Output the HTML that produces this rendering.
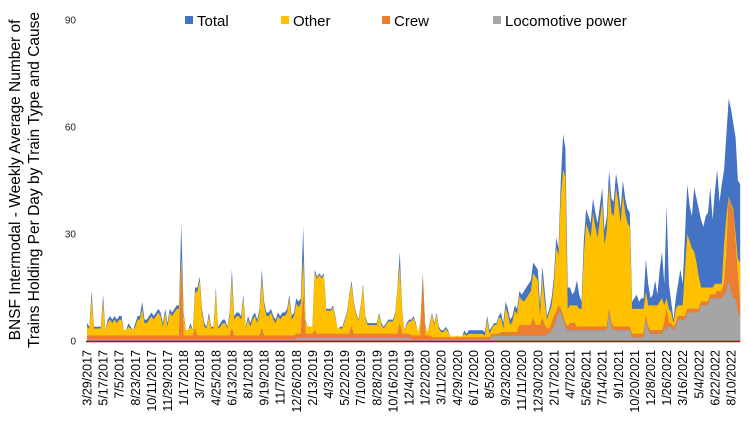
<!DOCTYPE html>
<html><head><meta charset="utf-8"><style>
html,body{margin:0;padding:0;background:#fff;}
svg{display:block;font-family:"Liberation Sans",Arial,sans-serif;}
</style></head><body>
<svg id="chart" width="749" height="424" viewBox="0 0 749 424" xmlns="http://www.w3.org/2000/svg">
<g id="yTitle">
<text x="20" y="180" font-size="15.5" text-anchor="middle" transform="rotate(-90 20 180)">BNSF Intermodal - Weekly Average Number of</text>
<text x="39" y="180" font-size="15.5" text-anchor="middle" transform="rotate(-90 39 180)">Trains Holding Per Day by Train Type and Cause</text>
</g>
<g id="legend">
<g><rect x="185" y="16" width="8" height="8" fill="#4472C4"/><text x="197" y="26" font-size="15">Total</text></g>
<g><rect x="281" y="16" width="8" height="8" fill="#FFC000"/><text x="293" y="26" font-size="15">Other</text></g>
<g><rect x="382" y="16" width="8" height="8" fill="#ED7D31"/><text x="394" y="26" font-size="15">Crew</text></g>
<g><rect x="493" y="16" width="8" height="8" fill="#A5A5A5"/><text x="505" y="26" font-size="15">Locomotive power</text></g>
</g>
<g id="areas"></g>
<g id="yAxis"></g>
<g id="xAxis"></g>
</svg>
<script>
const yTicks = [0, 30, 60, 90];
const xTickLabels = ["3/29/2017","5/17/2017","7/5/2017","8/23/2017","10/11/2017","11/29/2017","1/17/2018","3/7/2018","4/25/2018","6/13/2018","8/1/2018","9/19/2018","11/7/2018","12/26/2018","2/13/2019","4/3/2019","5/22/2019","7/10/2019","8/28/2019","10/16/2019","12/4/2019","1/22/2020","3/11/2020","4/29/2020","6/17/2020","8/5/2020","9/23/2020","11/11/2020","12/30/2020","2/17/2021","4/7/2021","5/26/2021","7/14/2021","9/1/2021","10/20/2021","12/8/2021","1/26/2022","3/16/2022","5/4/2022","6/22/2022","8/10/2022"];
const total = [5,4,14,4,4,4,4,13,3,6, 7,6,7,6,7,7,3,3,5,4, 3,5,7,7,11,6,6,7,8,7, 8,9,8,5,9,5,9,8,9,10, 10,33,8,3,3,5,3,15,15,18, 9,5,4,8,4,4,15,4,5,6, 6,4,8,20,7,8,8,7,13,4, 7,5,7,8,6,9,20,11,8,8, 9,7,6,8,7,8,8,9,13,7, 8,12,11,12,32,6,4,4,4,20, 18,19,18,19,9,9,9,10,7,3, 4,4,6,8,13,17,11,8,6,10, 16,7,5,5,5,5,5,8,5,4, 5,6,6,6,8,15,25,9,3,5, 6,6,7,5,2,6,19,5,2,5, 8,5,8,4,3,3,4,3,1,1, 1,1.5,1,1,3,2,3,3,3,3, 3,3,3,2.5,7,3,4,5,5,7, 8,5,11,9,6,7,10,9,14,13, 14,15,16,17,22,21,20,10,21,14, 7,9,12,18,29,26,45,58,54,15, 15,13,14,17,13,11,28,37,35,33, 40,36,33,38,43,31,35,48,40,39, 47,43,37,45,40,37,36,11,12,13, 11,12,12,23,16,12,13,17,13,20, 25,16,38,16,11,6,12,16,20,16, 30,44,38,35,43,40,37,34,32,35, 36,43,34,42,48,39,44,48,58,68, 65,61,57,45,44];
const other = [2.5,2,10.5,2,2,2,2,9.5,1.5,3.5, 4.5,3.5,4.5,3.5,4.5,4.5,1.5,1.5,2.5,2, 1.5,2.5,4.5,4.5,7.5,3.5,3.5,4.5,5.5,4.5, 5.5,6.5,5.5,2.5,6.5,2.5,6.5,5.5,6.5,7.5, 7.5,3,5.5,1.5,1.5,2.5,1.5,10,12.5,15.5, 6.5,2.5,2,5.5,2,2,12.5,2,2.5,3.5, 3.5,2,5.5,14,4.5,5.5,5.5,4.5,10.5,2, 4.5,2.5,4.5,5.5,3.5,6.5,14,8.5,5.5,5.5, 6.5,4.5,3.5,5.5,4.5,5.5,5.5,6.5,10.5,4.5, 5.5,8.5,7.5,8.5,10,3.5,2,2,2,16, 15.5,16.5,15.5,16.5,6.5,6.5,6.5,7.5,4.5,1.5, 1.5,1.5,3.5,5.5,10.5,12,8.5,5.5,3.5,7.5, 13.5,4.5,2.5,2.5,2.5,2.5,2.5,5.5,2.5,1.5, 2.5,3.5,3.5,3.5,5.5,12.5,16,6.5,1,2.5, 3.5,4,5,3,1,4,0.5,3,1,3, 6.5,3.5,6.5,2.5,1.5,1.5,2.5,1.5,0.3,0.3, 0.3,0.5,0.3,0.3,1,0.5,1,1,1,1, 1,1,1,0.5,5,1,1.5,2.5,2.5,4.5, 4,1,7,5,2,3,6,5,8,7, 6.5,7.5,8.5,9.5,12.5,13.5,12.5,2.5,11.5,6.5, 2.5,4.5,5,9,18,14,31,41,41,5, 5,5,5,6,5,5,20,29,27,25, 32,28,25,30,35,23,27,35,31,31, 39,35,29,37,32,29,28,7,7,7, 7,7,7,7,6,7,7,7,7,8, 9,5,3,4,3,1,4,3,3,3, 13,21,19,17,16,13,9,4,4,4, 4,2,2,3,2,2,2,11,11,0.5, 0.5,1,3,5,12];
const crew = [1,1,1,1,1,1,1,1,1,1, 1,1,1,1,1,1,1,1,1,1, 1,1,1,1,1,1,1,1,1,1, 1,1,1,1,1,1,1,1,1,1, 1,20,1,1,1,1,1,3,1,1, 1,1,1,1,1,1,1,1,1,1, 1,1,1,3,1,1,1,1,1,1, 1,1,1,1,1,1,3,1,1,1, 1,1,1,1,1,1,1,1,1,1, 1,1,1,1,12,1,1,1,1,2, 1,1,1,1,1,1,1,1,1,1, 1,1,1,1,1,3,1,1,1,1, 1,1,1,1,1,1,1,1,1,1, 1,1,1,1,1,1,4,1,1,1, 1,1,1,1,1,1,17,1,1,1, 0.5,0.5,0.5,0.5,0.5,0.5,0.5,0.5,0.5,0.5, 0.5,0.5,0.5,0.5,0.5,0.5,0.5,0.5,0.5,0.5, 0.5,0.5,0.5,0.5,0.5,0.5,0.5,0.5,0.5,0.5, 1,1,1,1,1,1,1,1,3,3, 3,3,3,3,5,3,3,3,5,3, 1.5,1.5,2,3,2,2,1,1,1,1, 2,2,2,1,1,1,1,1,1,1, 1,1,1,1,1,1,1,1,1,1, 1,1,1,1,1,1,1,1,1,1, 1,1,1,1,1,1,1,1,1,1, 1,1,6,1,1,1,1,1,1,1, 1,1,1,1,1,1,1,1,1,1, 1,1,1,1,2,2,2,3,10,23, 24,24,15,10,3];
const loco = [0.5,0.5,0.5,0.5,0.5,0.5,0.5,0.5,0.5,0.5, 0.5,0.5,0.5,0.5,0.5,0.5,0.5,0.5,0.5,0.5, 0.5,0.5,0.5,0.5,0.5,0.5,0.5,0.5,0.5,0.5, 0.5,0.5,0.5,0.5,0.5,0.5,0.5,0.5,0.5,0.5, 0.5,0.5,0.5,0.5,0.5,0.5,0.5,0.5,0.5,0.5, 0.5,0.5,0.5,0.5,0.5,0.5,0.5,0.5,0.5,0.5, 0.5,0.5,0.5,0.5,0.5,0.5,0.5,0.5,0.5,0.5, 0.5,0.5,0.5,0.5,0.5,0.5,0.5,0.5,0.5,0.5, 0.5,0.5,0.5,0.5,0.5,0.5,0.5,0.5,0.5,0.5, 0.5,1,1,1,1,1,1,1,1,1, 1,1,1,1,1,1,1,1,1,1, 1,1,1,1,1,1,1,1,1,1, 1,1,1,1,1,1,1,1,1,1, 1,1,1,1,1,1,1,1,1,1, 1,0.5,0.5,0.5,0.5,0.5,0.5,0.5,0.5,0.5, 0.5,0.5,0.5,0.5,0.5,0.5,0.5,0.5,0.5,0.5, 0.5,0.5,0.5,0.5,0.5,0.5,0.5,0.5,0.5,0.5, 0.5,0.5,0.5,0.5,0.5,0.5,1.5,1.5,1.5,1.5, 1.5,1.5,1.5,1.5,1.5,1.5,1.5,1.5,1.5,1.5, 1.5,1.5,1.5,1.5,1.5,1.5,1.5,1.5,1.5,1.5, 2,2,3,4,6,8,8,6,4,3, 3,3,3,3,3,3,3,3,3,3, 3,3,3,3,3,3,3,8,4,3, 3,3,3,3,3,3,3,1,1,1, 1,1,1,6,3,2,2,2,2,2, 2,4,3,4,4,3,4,6,6,6, 6,8,8,8,8,8,8,10,10,10, 10,12,12,12,12,12,12,13,14,17, 14,12,12,8,7];

const NS = "http://www.w3.org/2000/svg";
const X0 = 87, STEP = 2.3, Y0 = 341, YMAX = 90, YTOP = 20;
function xs(i){ return X0 + i * STEP; }
function ys(v){ return Y0 - v / YMAX * (Y0 - YTOP); }
function mk(tag, attrs){ const e = document.createElementNS(NS, tag); for (const k in attrs) e.setAttribute(k, attrs[k]); return e; }

const areas = document.getElementById('areas');
function areaPath(lower, upper){
  let d = '';
  for (let i = 0; i < upper.length; i++) d += (i ? 'L' : 'M') + xs(i).toFixed(2) + ',' + ys(upper[i]).toFixed(2);
  for (let i = lower.length - 1; i >= 0; i--) d += 'L' + xs(i).toFixed(2) + ',' + ys(lower[i]).toFixed(2);
  return d + 'Z';
}
const n = total.length;
const zero = total.map(() => 0);
const s1 = loco.map((v) => v);
const s2 = s1.map((v, i) => v + crew[i]);
const s3 = s2.map((v, i) => v + other[i]);

const pTotal = mk('path', {d: areaPath(zero, total), fill: '#4472C4'});


areas.appendChild(pTotal);
const pOther = mk('path', {d: areaPath(s2, s3), fill: '#FFC000'});


areas.appendChild(pOther);
const pCrew = mk('path', {d: areaPath(s1, s2), fill: '#ED7D31'});


areas.appendChild(pCrew);
const pLoco = mk('path', {d: areaPath(zero, s1), fill: '#A5A5A5'});


areas.appendChild(pLoco);

const yAxis = document.getElementById('yAxis');
yTicks.forEach((t) => {
  const tx = mk('text', {x: 76, y: ys(t) + 3.5, 'font-size': 10, 'text-anchor': 'end', fill: '#222'});
  tx.textContent = t;
  
  
  yAxis.appendChild(tx);
});

const xAxis = document.getElementById('xAxis');
const axisLine = mk('line', {x1: X0 - 1, x2: xs(n - 1), y1: Y0 + 0.5, y2: Y0 + 0.5, stroke: '#C00000', 'stroke-width': 1.5});


xAxis.appendChild(axisLine);
xTickLabels.forEach((lab, k) => {
  const x = xs(k * 7) + 4.5, y = 350;
  const tx = mk('text', {x: x, y: y, 'font-size': 12.5, 'text-anchor': 'end', transform: 'rotate(-90 ' + x + ' ' + y + ')'});
  tx.textContent = lab;
  
  
  xAxis.appendChild(tx);
});
</script>
</body></html>
